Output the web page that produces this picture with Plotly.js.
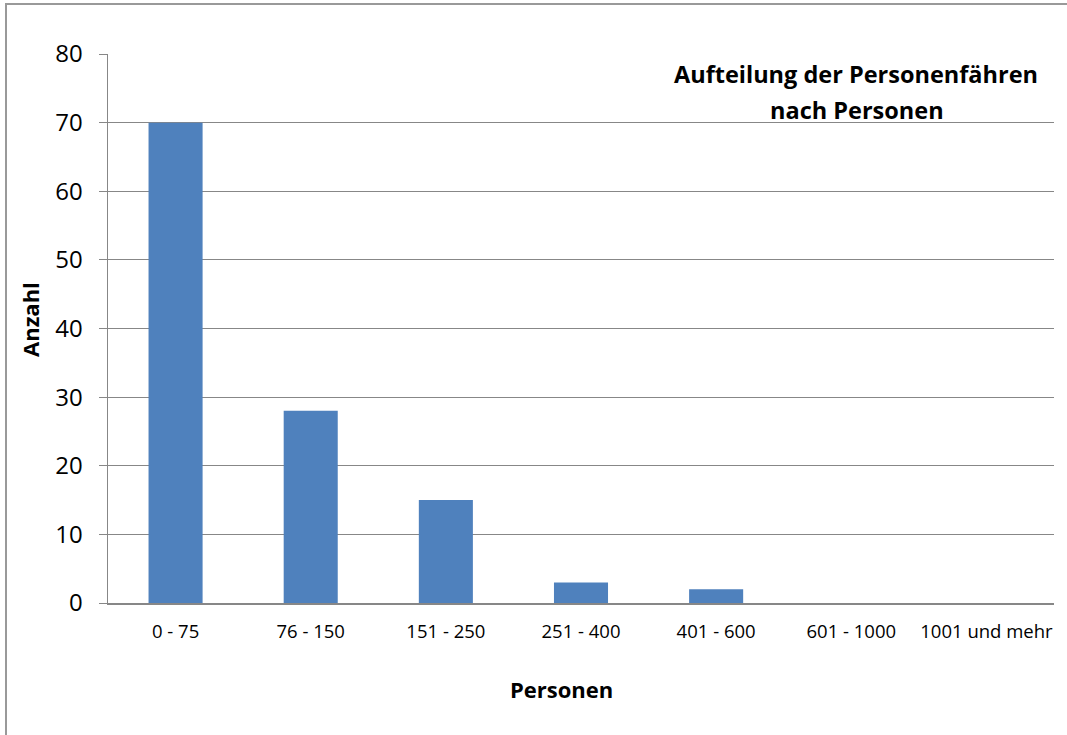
<!DOCTYPE html>
<html>
<head>
<meta charset="utf-8">
<script src="https://cdn.plot.ly/plotly-3.0.1.min.js"></script>
<style>
html,body{margin:0;padding:0;background:#fff;overflow:hidden;}
#wrap{position:relative;width:1067px;height:735px;overflow:hidden;}
#chart{width:1067px;height:735px;}
#frame{position:absolute;left:5px;top:3px;width:1300px;height:1000px;border-left:2px solid #999;border-top:2px solid #999;pointer-events:none;box-sizing:border-box;}
#cover{position:absolute;left:1055px;top:5px;width:40px;height:800px;background:#fff;pointer-events:none;}
</style>
</head>
<body>
<div id="wrap">
<div id="chart"></div>
<div id="frame"></div>
<div id="cover"></div>
</div>
<script>
const categories = ["0 - 75", "76 - 150", "151 - 250", "251 - 400", "401 - 600", "601 - 1000", "1001 und mehr"];
const anzahl = [70, 28, 15, 3, 2, 0, 0];
const yTicks = [0, 10, 20, 30, 40, 50, 60, 70, 80];
const titleLines = ["Aufteilung der Personenfähren", "nach Personen"];
const xTitle = "Personen";
const yTitle = "Anzahl";

const FONT = "'Open Sans', sans-serif";
const GRID = "#878787";

const trace = {
  type: "bar",
  x: categories,
  y: anzahl,
  marker: {color: "#4F81BD"},
  hoverinfo: "x+y"
};

const layout = {
  width: 1067,
  height: 735,
  paper_bgcolor: "rgba(0,0,0,0)",
  plot_bgcolor: "#ffffff",
  margin: {l: 108, r: 13, t: 54, b: 132},
  showlegend: false,
  bargap: 0.6,
  font: {family: FONT, color: "#000"},
  title: {
    text: "<b>" + titleLines[0] + "</b>",
    font: {family: FONT, size: 23.5, color: "#000"},
    xref: "container", yref: "container",
    x: 856 / 1067, xanchor: "center",
    y: 1 - 75 / 735, yanchor: "middle"
  },
  annotations: [{
    text: "<b>" + titleLines[1] + "</b>",
    font: {family: FONT, size: 23.5, color: "#000"},
    xref: "paper", yref: "paper",
    x: (857 - 108) / 946, xanchor: "center",
    y: (603 - 110) / 549, yanchor: "middle",
    showarrow: false
  }, {
    text: "<b>" + xTitle + "</b>",
    font: {family: FONT, size: 22, color: "#000"},
    xref: "paper", yref: "paper",
    x: (561 - 108) / 946, xanchor: "center",
    y: (603 - 689) / 549, yanchor: "middle",
    showarrow: false
  }, {
    text: "<b>" + yTitle + "</b>",
    font: {family: FONT, size: 22, color: "#000"},
    textangle: -90,
    xref: "paper", yref: "paper",
    x: (30 - 108) / 946, xanchor: "center",
    y: (603 - 320) / 549, yanchor: "middle",
    showarrow: false
  }],
  xaxis: {
    type: "category",
    showgrid: false,
    showline: true,
    linecolor: GRID,
    linewidth: 1.5,
    ticks: "",
    tickfont: {family: FONT, size: 18.5, color: "#000"},
    ticklabelstandoff: 11,
    automargin: false
  },
  yaxis: {
    range: [0, 80],
    tickvals: yTicks,
    ticktext: yTicks.map(String),
    showgrid: true,
    gridcolor: GRID,
    gridwidth: 1,
    zeroline: false,
    showline: true,
    linecolor: GRID,
    linewidth: 1.5,
    ticks: "outside",
    ticklen: 8,
    tickcolor: GRID,
    tickfont: {family: FONT, size: 24, color: "#000"},
    ticklabelstandoff: 11,
    automargin: false
  }
};

Plotly.newPlot("chart", [trace], layout, {displayModeBar: false, staticPlot: true});
</script>
</body>
</html>
